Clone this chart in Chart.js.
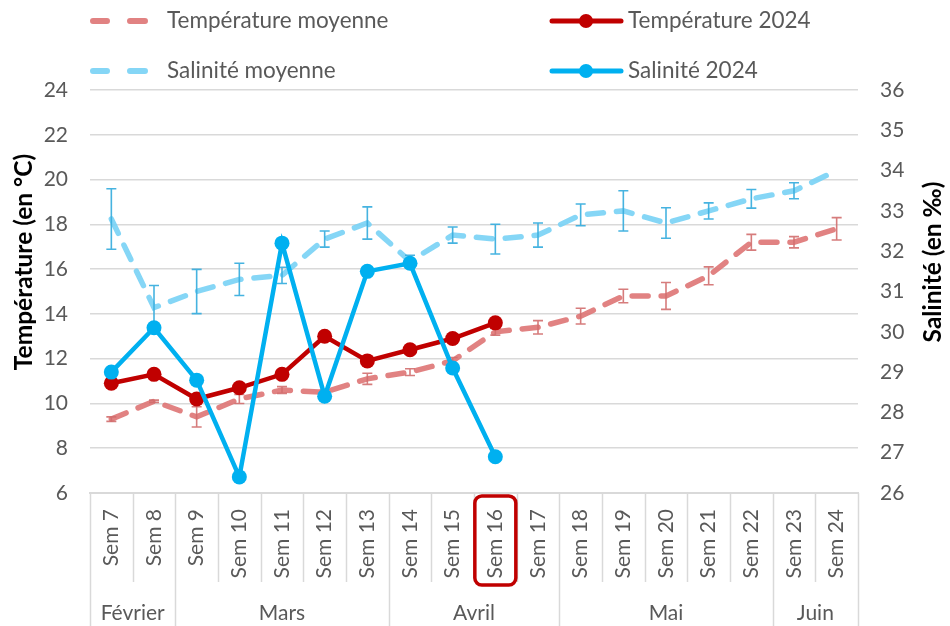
<!DOCTYPE html>
<html><head><meta charset="utf-8">
<script src="https://cdn.jsdelivr.net/npm/chart.js@4.4.0/dist/chart.umd.min.js"></script>
<style>html,body{margin:0;padding:0;background:#fff}#wrap{width:950px;height:626px;position:relative}</style>
</head><body><div id="wrap"><canvas id="c" width="950" height="626"></canvas></div>
<script>
const weeks = ['Sem 7','Sem 8','Sem 9','Sem 10','Sem 11','Sem 12','Sem 13','Sem 14','Sem 15','Sem 16','Sem 17','Sem 18','Sem 19','Sem 20','Sem 21','Sem 22','Sem 23','Sem 24'];
const monthLabels = ['Février','Mars','Avril','Mai','Juin'];
const monthSpans = [2,5,4,5,2];
const highlightWeek = 'Sem 16';
const tempTicks = [6,8,10,12,14,16,18,20,22,24];
const salTicks = [26,27,28,29,30,31,32,33,34,35,36];
const tempTitle = 'Température (en °C)';
const salTitle = 'Salinité (en ‰)';

const tempMoy    = [9.3,10.1,9.4,10.2,10.6,10.5,11.1,11.4,11.9,13.2,13.4,13.9,14.8,14.8,15.7,17.2,17.2,17.8];
const tempMoyErr = [0.1,0.05,0.45,0.2,0.15,0.1,0.25,0.15,0.15,0.15,0.3,0.35,0.3,0.6,0.4,0.35,0.25,0.5];
const temp2024   = [10.9,11.3,10.2,10.7,11.3,13.0,11.9,12.4,12.9,13.6];
const salMoy     = [32.8,30.6,31.0,31.3,31.4,32.3,32.7,31.75,32.4,32.3,32.4,32.9,33.0,32.7,33.0,33.3,33.5,34.0];
const salMoyErr  = [0.75,0.55,0.55,0.4,0.2,0.2,0.4,0.15,0.2,0.37,0.3,0.27,0.5,0.38,0.2,0.23,0.2,0];
const sal2024    = [29.0,30.1,28.8,26.4,32.2,28.4,31.5,31.7,29.1,26.9];

const FONT = 'Lato, "Open Sans", sans-serif';
const GREY = '#595959';
const GRID = '#D9D9D9';

const C_TMOY = 'rgba(222,116,116,0.9)';
const C_SMOY = 'rgba(120,210,245,0.9)';
const C_T24 = '#C00000';
const C_S24 = '#00B0F0';

const errorBars = {
  id: 'errorBars',
  afterDatasetDraw(chart, args) {
    const cfg = {0: {vals: tempMoy, err: tempMoyErr, axis: 'yT', color: 'rgba(210,110,110,0.9)'},
                 1: {vals: salMoy, err: salMoyErr, axis: 'yS', color: 'rgba(60,175,222,0.95)'}}[args.index];
    if (!cfg) return;
    const ctx = chart.ctx, xs = chart.scales.x, ys = chart.scales[cfg.axis];
    ctx.save();
    ctx.strokeStyle = cfg.color; ctx.lineWidth = 1.6; ctx.setLineDash([]);
    cfg.vals.forEach((v, i) => {
      const e = cfg.err[i]; if (!e) return;
      const x = xs.getPixelForValue(i);
      const y1 = ys.getPixelForValue(v + e), y2 = ys.getPixelForValue(v - e);
      ctx.beginPath();
      ctx.moveTo(x, y1); ctx.lineTo(x, y2);
      ctx.moveTo(x - 5, y1); ctx.lineTo(x + 5, y1);
      ctx.moveTo(x - 5, y2); ctx.lineTo(x + 5, y2);
      ctx.stroke();
    });
    ctx.restore();
  }
};

const decor = {
  id: 'decor',
  afterDraw(chart) {
    const ctx = chart.ctx, xs = chart.scales.x, ca = chart.chartArea;
    const half = (xs.getPixelForValue(1) - xs.getPixelForValue(0)) / 2;
    ctx.save();
    // separators
    const monthStarts = [0]; monthSpans.forEach(s => monthStarts.push(monthStarts[monthStarts.length-1] + s));
    ctx.strokeStyle = GRID; ctx.lineWidth = 1.5;
    for (let i = 0; i <= weeks.length; i++) {
      const x = Math.round(xs.getPixelForValue(0) - half + i * 2 * half) + 0.5;
      const isMonth = monthStarts.includes(i);
      ctx.beginPath(); ctx.moveTo(x, ca.bottom); ctx.lineTo(x, isMonth ? 626 : 582); ctx.stroke();
    }
    // month labels
    ctx.fillStyle = GREY; ctx.font = '21px ' + FONT; ctx.textAlign = 'center'; ctx.textBaseline = 'middle';
    monthLabels.forEach((m, k) => {
      const a = monthStarts[k], b = monthStarts[k+1] - 1;
      const x = (xs.getPixelForValue(a) + xs.getPixelForValue(b)) / 2;
      ctx.fillText(m, x, 613);
    });
    // highlight box
    const hi = weeks.indexOf(highlightWeek);
    if (hi >= 0) {
      const x = xs.getPixelForValue(hi);
      ctx.strokeStyle = C_T24; ctx.lineWidth = 3.5;
      ctx.beginPath(); ctx.roundRect(x - 20.5, ca.bottom + 3, 41, 89, 7); ctx.stroke();
    }
    ctx.restore();

    // axis titles
    const midY = 262;
    [[tempTitle, 24], [salTitle, 933]].forEach(([t, x]) => {
      ctx.save();
      ctx.fillStyle = '#000'; ctx.font = 'bold 24.5px ' + FONT;
      ctx.textAlign = 'center'; ctx.textBaseline = 'middle';
      ctx.translate(x, midY);
      ctx.rotate(-Math.PI / 2);
      ctx.fillText(t, 0, 0);
      ctx.restore();
    });

    // legend
    const items = [
      {ds: 0, x: 90, y: 21}, {ds: 2, x: 550, y: 21},
      {ds: 1, x: 90, y: 71}, {ds: 3, x: 550, y: 71}
    ];
    ctx.save();
    items.forEach(it => {
      const d = chart.data.datasets[it.ds];
      ctx.lineCap = 'round';
      if (d.borderDash) {
        ctx.strokeStyle = d.borderColor; ctx.lineWidth = 6;
        ctx.beginPath(); ctx.moveTo(it.x + 3, it.y); ctx.lineTo(it.x + 17, it.y);
        ctx.moveTo(it.x + 40, it.y); ctx.lineTo(it.x + 55, it.y); ctx.stroke();
        ctx.fillStyle = GREY; ctx.font = '22.5px ' + FONT; ctx.textAlign = 'left'; ctx.textBaseline = 'middle';
        ctx.fillText(d.label, it.x + 77, it.y);
      } else {
        ctx.strokeStyle = d.borderColor; ctx.lineWidth = 5;
        ctx.beginPath(); ctx.moveTo(it.x + 2, it.y); ctx.lineTo(it.x + 71, it.y); ctx.stroke();
        ctx.fillStyle = d.borderColor;
        ctx.beginPath(); ctx.arc(it.x + 36, it.y, 7, 0, Math.PI * 2); ctx.fill();
        ctx.fillStyle = GREY; ctx.font = '22.5px ' + FONT; ctx.textAlign = 'left'; ctx.textBaseline = 'middle';
        ctx.fillText(d.label, it.x + 78, it.y);
      }
    });
    ctx.restore();
  }
};

new Chart(document.getElementById('c'), {
  type: 'line',
  data: {
    labels: weeks,
    datasets: [
      {label: 'Température moyenne', data: tempMoy, yAxisID: 'yT', borderColor: C_TMOY, borderWidth: 5.5,
       borderDash: [16, 13], borderCapStyle: 'round', pointRadius: 0, tension: 0, order: 3},
      {label: 'Salinité moyenne', data: salMoy, yAxisID: 'yS', borderColor: C_SMOY, borderWidth: 5.5,
       borderDash: [16, 13], borderCapStyle: 'round', pointRadius: 0, tension: 0, order: 2},
      {label: 'Température 2024', data: temp2024, yAxisID: 'yT', borderColor: C_T24, backgroundColor: C_T24,
       borderWidth: 4.5, pointRadius: 7.5, pointBorderWidth: 0, tension: 0, order: 1},
      {label: 'Salinité 2024', data: sal2024, yAxisID: 'yS', borderColor: C_S24, backgroundColor: C_S24,
       borderWidth: 4.5, pointRadius: 7.5, pointBorderWidth: 0, tension: 0, order: 0}
    ]
  },
  options: {
    responsive: false, animation: false,
    layout: {padding: {top: 90, left: 0, right: 0, bottom: 0}},
    plugins: {legend: {display: false}, tooltip: {enabled: false}},
    scales: {
      x: {
        offset: true,
        grid: {display: false},
        border: {display: true, color: GRID, width: 2},
        ticks: {minRotation: 90, maxRotation: 90, autoSkip: false, color: GREY, font: {family: FONT, size: 21}, padding: 8},
        afterFit(s) { s.height = 133; }
      },
      yT: {
        position: 'left', min: 6, max: 24,
        afterBuildTicks(s) { s.ticks = tempTicks.map(v => ({value: v})); },
        ticks: {color: GREY, font: {family: FONT, size: 21}, padding: 22},
        grid: {color: GRID, lineWidth: 1.5, drawTicks: false},
        border: {display: false},
        afterFit(s) { s.width = 90; }
      },
      yS: {
        position: 'right', min: 26, max: 36,
        afterBuildTicks(s) { s.ticks = salTicks.map(v => ({value: v})); },
        ticks: {color: GREY, font: {family: FONT, size: 21}, padding: 22},
        grid: {display: false, drawTicks: false},
        border: {display: false},
        afterFit(s) { s.width = 92; }
      }
    }
  },
  plugins: [errorBars, decor]
});
</script>
</body></html>
